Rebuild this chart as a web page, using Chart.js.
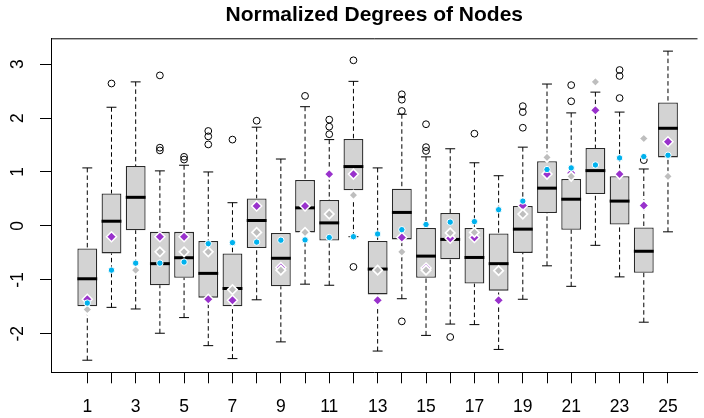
<!DOCTYPE html>
<html lang="en">
<head>
<meta charset="UTF-8">
<title>Normalized Degrees of Nodes</title>
<script src="https://cdn.jsdelivr.net/npm/chart.js"></script>
<style>
  html, body { margin: 0; padding: 0; background: #fff; }
  canvas { display: block; }
</style>
</head>
<body>
<canvas id="degChart" width="704" height="418"></canvas>
<script>
// node index on the x axis
var nodes = [1, 2, 3, 4, 5, 6, 7, 8, 9, 10, 11, 12, 13, 14, 15, 16, 17, 18, 19, 20, 21, 22, 23, 24, 25];

// five-number summaries per node
var whiskLo = [-2.49, -1.51, -1.54, -1.99, -1.70, -2.22, -2.46, -1.37, -2.15, -1.08, -1.10, -0.20, -2.32, -1.35, -2.03, -1.82, -1.83, -2.29, -1.36, -0.74, -1.12, -0.36, -0.945, -1.785, -0.11];
var q1      = [-1.49, -0.51, -0.08, -1.10, -0.96, -1.33, -1.49, -0.41, -1.12, -0.12, -0.27, 0.66, -1.27, -0.25, -0.96, -0.62, -1.07, -1.20, -0.50, 0.24, -0.07, 0.59, 0.026, -0.87, 1.27];
var median  = [-0.98, 0.087, 0.53, -0.70, -0.59, -0.88, -1.16, 0.10, -0.60, 0.335, 0.056, 1.10, -0.80, 0.25, -0.56, -0.25, -0.585, -0.70, -0.06, 0.70, 0.495, 1.025, 0.46, -0.47, 1.81];
var q3      = [-0.42, 0.60, 1.11, -0.11, -0.11, -0.28, -0.51, 0.51, -0.13, 0.85, 0.48, 1.61, -0.28, 0.69, -0.04, 0.24, -0.04, -0.14, 0.37, 1.20, 0.87, 1.445, 0.92, -0.03, 2.29];
var whiskHi = [1.075, 2.20, 2.67, 1.02, 1.125, 1.00, 0.43, 1.83, 1.24, 2.21, 1.60, 2.68, 1.075, 2.07, 1.28, 1.43, 1.17, 0.93, 1.46, 2.63, 2.095, 2.48, 2.11, 1.055, 3.24];

var outliers = [
  [], [2.64], [], [2.79, 1.45, 1.40], [1.28, 1.23], [1.76, 1.66, 1.51], [1.60], [1.95], [],
  [2.41], [1.97, 1.84, 1.70], [3.07, -0.76], [], [2.44, 2.34, 2.13, -1.77], [1.885, 1.46, 1.39],
  [-2.06], [1.71], [], [2.22, 2.11, 1.82], [], [2.61, 2.31], [], [2.89, 2.78, 2.37], [1.22], []
];

// single values marked on top of each box
var blueVals   = [-1.43, -0.82, -0.69, -0.69, -0.67, -0.33, -0.31, -0.30, -0.265, -0.26, -0.215, -0.20, -0.15, -0.07, 0.026, 0.07, 0.08, 0.30, 0.46, 1.045, 1.075, 1.13, 1.26, 1.285, 1.31];
var purpleVals = [-1.36, -0.20, null, -0.20, -0.20, -1.36, -1.38, 0.37, -0.77, 0.37, 0.96, 0.96, -1.38, -0.215, -0.78, -0.23, -0.215, -1.38, 0.38, 0.96, 0.98, 2.145, 0.96, 0.38, 1.56];
var grayVals   = [-1.55, null, -0.82, -0.48, -0.48, -0.48, -1.18, -0.12, -0.82, -0.12, 0.22, 0.57, -0.82, -0.48, -0.82, -0.13, -0.12, -0.83, 0.22, 1.27, 0.92, 2.67, null, 1.62, 0.92];

var yTicks = [-2, -1, 0, 1, 2, 3];

function toPoints(vals) {
  var pts = [];
  for (var i = 0; i < nodes.length; i++) {
    if (vals[i] !== null) pts.push({ x: nodes[i], y: vals[i] });
  }
  return pts;
}

var outlierPts = [];
for (var i = 0; i < nodes.length; i++) {
  outlierPts = outlierPts.concat(outliers[i].map(function (v) { return { x: nodes[i], y: v }; }));
}

var boxData = nodes.map(function (n, i) { return { x: n, y: [q1[i], q3[i]] }; });

// whiskers, caps, medians and the top frame line
var boxParts = {
  id: 'boxParts',
  beforeDatasetsDraw: function (chart) {
    var ctx = chart.ctx, ys = chart.scales.y, area = chart.chartArea;
    var bars = chart.getDatasetMeta(0).data;
    ctx.save();
    ctx.strokeStyle = '#000';
    ctx.lineWidth = 1;
    ctx.beginPath();
    ctx.moveTo(area.left, area.top + 0.5);
    ctx.lineTo(area.right, area.top + 0.5);
    ctx.stroke();
    bars.forEach(function (bar, i) {
      var cap = bar.width / 4;
      ctx.setLineDash([4.5, 3]);
      ctx.beginPath();
      ctx.moveTo(bar.x, ys.getPixelForValue(whiskHi[i]));
      ctx.lineTo(bar.x, ys.getPixelForValue(q3[i]));
      ctx.moveTo(bar.x, ys.getPixelForValue(whiskLo[i]));
      ctx.lineTo(bar.x, ys.getPixelForValue(q1[i]));
      ctx.stroke();
      ctx.setLineDash([]);
      ctx.beginPath();
      [whiskHi[i], whiskLo[i]].forEach(function (v) {
        var py = ys.getPixelForValue(v);
        ctx.moveTo(bar.x - cap, py);
        ctx.lineTo(bar.x + cap, py);
      });
      ctx.stroke();
    });
    ctx.restore();
  },
  afterDatasetDraw: function (chart, args) {
    if (args.index !== 0) return;
    var ctx = chart.ctx, ys = chart.scales.y;
    ctx.save();
    ctx.strokeStyle = '#000';
    ctx.lineWidth = 3;
    args.meta.data.forEach(function (bar, i) {
      var py = ys.getPixelForValue(median[i]);
      ctx.beginPath();
      ctx.moveTo(bar.x - bar.width / 2, py);
      ctx.lineTo(bar.x + bar.width / 2, py);
      ctx.stroke();
    });
    ctx.restore();
  }
};

Chart.defaults.font.family = '"Liberation Sans", Arial, Helvetica, sans-serif';
Chart.defaults.color = '#000';

var ctx = document.getElementById('degChart').getContext('2d');
new Chart(ctx, {
  type: 'bar',
  data: {
    datasets: [
      {
        type: 'bar',
        data: boxData,
        backgroundColor: '#D3D3D3',
        borderColor: '#2a2a2a',
        borderWidth: 1.3,
        borderSkipped: false,
        barPercentage: 0.82,
        categoryPercentage: 1,
        order: 6
      },
      {
        type: 'scatter',
        data: outlierPts,
        pointStyle: 'circle',
        radius: 3.4,
        borderColor: '#000',
        backgroundColor: 'rgba(0,0,0,0)',
        borderWidth: 1,
        order: 5
      },
      {
        type: 'scatter',
        data: toPoints(purpleVals),
        pointStyle: 'rectRot',
        radius: 5,
        backgroundColor: '#9932CC',
        borderColor: '#fff',
        borderWidth: 1.5,
        order: 3
      },
      {
        type: 'scatter',
        data: toPoints(grayVals),
        pointStyle: 'rectRot',
        radius: 4.7,
        backgroundColor: '#BEBEBE',
        borderColor: '#fff',
        borderWidth: 1.7,
        order: 2
      },
      {
        type: 'scatter',
        data: toPoints(blueVals),
        pointStyle: 'circle',
        radius: 3.2,
        backgroundColor: '#00B2EE',
        borderColor: '#fff',
        borderWidth: 1,
        order: 1
      }
    ]
  },
  options: {
    responsive: false,
    animation: false,
    events: [],
    layout: { padding: 0 },
    plugins: {
      legend: { display: false },
      tooltip: { enabled: false },
      title: {
        display: true,
        text: 'Normalized Degrees of Nodes',
        fullSize: false,
        font: { size: 21, weight: 'bold' },
        padding: { top: 2.6, bottom: 10.5 }
      }
    },
    scales: {
      x: {
        type: 'linear',
        min: -0.5,
        max: 26.22,
        offset: false,
        afterBuildTicks: function (scale) {
          scale.ticks = nodes.map(function (n) { return { value: n }; });
        },
        afterFit: function (scale) { scale.height = 45.7; },
        ticks: {
          autoSkip: false,
          maxRotation: 0,
          padding: 13,
          font: { size: 17.5 },
          callback: function (v) { return v % 2 === 1 ? String(v) : ''; }
        },
        grid: { offset: false, drawOnChartArea: false, tickLength: 11, tickColor: '#000', color: '#000' },
        border: { color: '#000', width: 1 }
      },
      y: {
        min: -2.714,
        max: 3.478,
        afterBuildTicks: function (scale) {
          scale.ticks = yTicks.map(function (v) { return { value: v }; });
        },
        afterFit: function (scale) { scale.width = 51; },
        ticks: {
          minRotation: 90,
          maxRotation: 90,
          crossAlign: 'center',
          padding: 13.7,
          font: { size: 17.5 }
        },
        grid: { drawOnChartArea: false, tickLength: 11, tickColor: '#000', color: '#000' },
        border: { color: '#000', width: 1 }
      }
    }
  },
  plugins: [boxParts]
});
</script>
</body>
</html>
